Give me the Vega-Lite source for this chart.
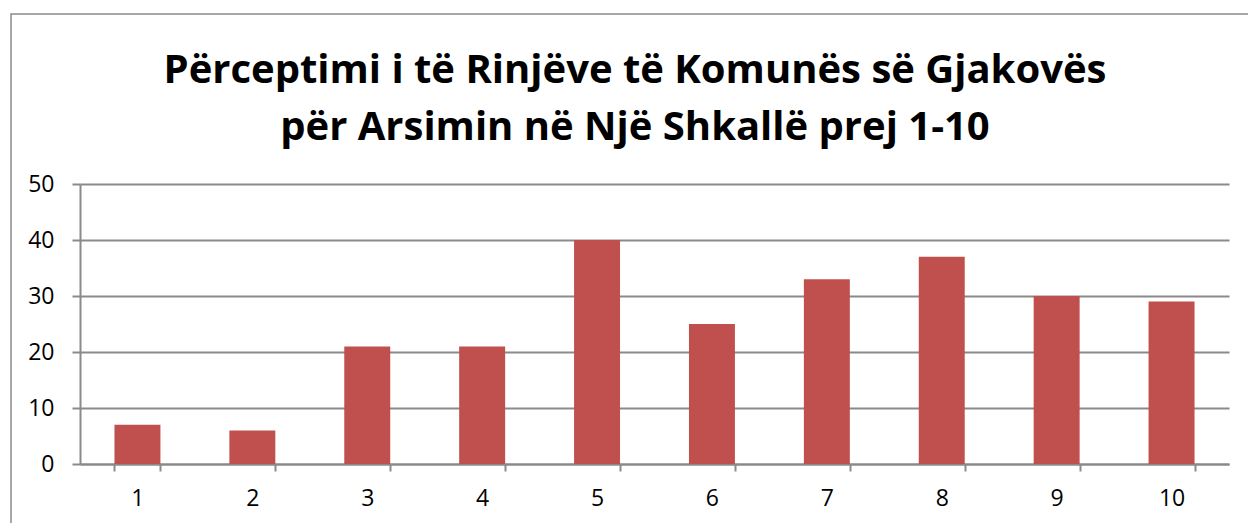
{
  "$schema": "https://vega.github.io/schema/vega-lite/v6.json",
  "autosize": "none",
  "padding": {"left": 11, "top": 14, "right": 0, "bottom": 0},
  "width": 1248,
  "height": 520,
  "background": "white",
  "config": {
    "view": {"stroke": "#8a8a8a", "strokeWidth": 1.5},
    "font": "Open Sans"
  },
  "title": {
    "text": ["Përceptimi i të Rinjëve të Komunës së Gjakovës", "për Arsimin në Një Shkallë prej 1-10"],
    "font": "Open Sans",
    "fontSize": 40,
    "fontWeight": "bold",
    "color": "#000000",
    "anchor": "middle",
    "baseline": "alphabetic",
    "lineHeight": 57,
    "offset": -166
  },
  "data": {
    "values": [
      {"score": 1, "count": 7},
      {"score": 2, "count": 6},
      {"score": 3, "count": 21},
      {"score": 4, "count": 21},
      {"score": 5, "count": 40},
      {"score": 6, "count": 25},
      {"score": 7, "count": 33},
      {"score": 8, "count": 37},
      {"score": 9, "count": 30},
      {"score": 10, "count": 29}
    ]
  },
  "mark": {"type": "bar", "color": "#C0504D"},
  "encoding": {
    "x": {
      "field": "score",
      "type": "ordinal",
      "sort": null,
      "scale": {"range": [69, 1218], "paddingInner": 0.6, "paddingOuter": 0.3},
      "axis": {
        "title": null,
        "offset": -70,
        "labelAngle": 0,
        "labelFontSize": 23,
        "labelColor": "#000000",
        "labelPadding": 16,
        "tickBand": "extent",
        "tickSize": 7,
        "tickColor": "#8a8a8a",
        "tickWidth": 2,
        "domainColor": "#8a8a8a",
        "domainWidth": 2,
        "grid": false
      }
    },
    "y": {
      "field": "count",
      "type": "quantitative",
      "scale": {"domain": [0, 50], "range": [450, 170], "nice": false},
      "axis": {
        "title": null,
        "offset": -69,
        "values": [0, 10, 20, 30, 40, 50],
        "labelFontSize": 23,
        "labelColor": "#000000",
        "labelPadding": 18,
        "tickSize": 8,
        "tickColor": "#8a8a8a",
        "tickWidth": 2,
        "domainColor": "#8a8a8a",
        "domainWidth": 2,
        "grid": true,
        "gridColor": "#8a8a8a",
        "gridWidth": 2
      }
    }
  }
}
